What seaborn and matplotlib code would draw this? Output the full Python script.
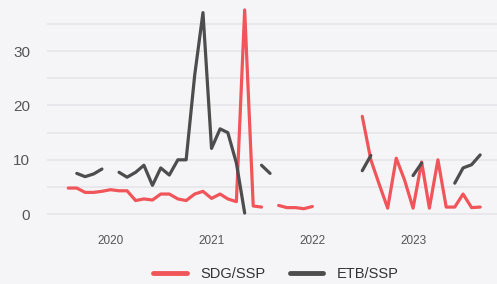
import numpy as np
import pandas as pd
import seaborn as sns
import matplotlib.pyplot as plt
import matplotlib.dates as mdates

# monthly observations, Aug 2019 - Sep 2023 (NaN = no data)
months = pd.date_range("2019-08-01", periods=50, freq="MS")
nan = np.nan
sdg_ssp = [4.8, 4.8, 4.0, 4.0, 4.2, 4.5, 4.3, 4.3, 2.5, 2.8,
           2.6, 3.7, 3.7, 2.8, 2.5, 3.7, 4.2, 2.9, 3.7, 2.8,
           2.3, 37.6, 1.5, 1.3, nan, 1.6, 1.2, 1.2, 1.0, 1.4,
           nan, nan, nan, nan, nan, 18.0, 10.0, 5.4, 1.1, 10.3,
           6.3, 1.1, 9.6, 1.1, 10.0, 1.3, 1.3, 3.7, 1.2, 1.3]
etb_ssp = [nan, 7.5, 6.9, 7.4, 8.3, nan, 7.7, 6.8, 7.7, 9.0,
           5.3, 8.5, 7.2, 10.0, 10.0, 25.6, 37.1, 12.1, 15.7, 15.0,
           9.4, 0.2, nan, 9.0, 7.5, nan, nan, nan, nan, nan,
           nan, nan, nan, nan, nan, 8.0, 10.8, nan, nan, nan,
           nan, 7.1, 9.4, nan, nan, nan, 5.7, 8.5, 9.1, 10.9]
series = {"SDG/SSP": sdg_ssp, "ETB/SSP": etb_ssp}
palette = {"SDG/SSP": "#f0555a", "ETB/SSP": "#4d4d4d"}

# long format; each unbroken run gets its own unit so gaps stay gaps
frames = []
for name, vals in series.items():
    d = pd.DataFrame({"date": months, "rate": vals, "pair": name})
    d["seg"] = d["rate"].isna().cumsum()
    d["seg"] = name + d["seg"].astype(str)
    frames.append(d.dropna())
df = pd.concat(frames)

bg = "#f5f5f8"
sns.set_theme(style="white")
plt.rcParams["font.family"] = ["Liberation Sans", "DejaVu Sans"]

fig = plt.figure(figsize=(4.97, 2.84), dpi=100, facecolor=bg)
ax = fig.add_axes([47 / 497, 59 / 284, 450 / 497, 220 / 284], facecolor=bg)

sns.lineplot(data=df, x="date", y="rate", hue="pair", units="seg",
             estimator=None, palette=palette, linewidth=2.3, ax=ax,
             legend=False)

ax.set_ylim(-2, 38.5)
ax.set_xlim(pd.Timestamp("2019-05-16"), pd.Timestamp("2023-11-01"))
ax.set_yticks([0, 10, 20, 30])
ax.set_yticks([5, 15, 25, 35], minor=True)
ax.grid(axis="y", which="both", color="#e6e6ea", linewidth=1.2)
ax.set_axisbelow(True)
ax.xaxis.set_major_locator(mdates.YearLocator())
ax.xaxis.set_major_formatter(mdates.DateFormatter("%Y"))
ax.tick_params(axis="y", which="both", length=0, pad=12, labelsize=11, labelcolor="#555555")
ax.tick_params(axis="x", length=0, pad=7, labelsize=8.5, labelcolor="#555555")
ax.set_xlabel("")
ax.set_ylabel("")
sns.despine(ax=ax, left=True, bottom=True)

handles = [plt.Line2D([], [], color=palette[k], linewidth=3.5) for k in series]
fig.legend(handles, list(series), loc="lower center", bbox_to_anchor=(0.555, -0.035),
           ncol=2, frameon=False, fontsize=10.5, handlelength=2.3,
           handletextpad=0.9, columnspacing=1.7, labelcolor="#333333")

fig.savefig("out.png", dpi=100, facecolor=bg)
